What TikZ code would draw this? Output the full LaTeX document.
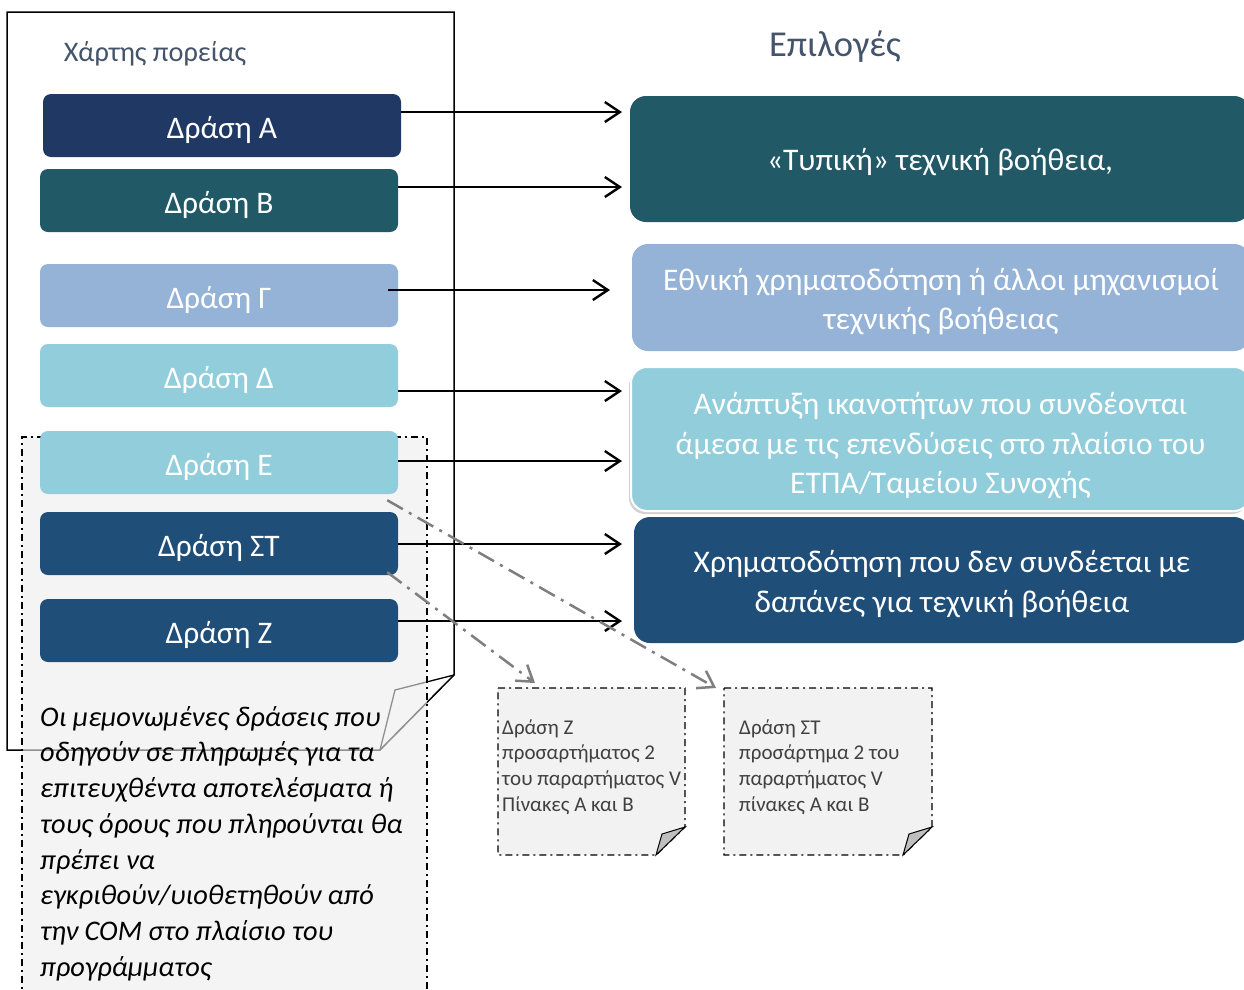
\documentclass[tikz,border=0pt]{standalone}
\usepackage{fontspec}
\setmainfont{Carlito}
\usetikzlibrary{arrows.meta,shadows,calc}

\definecolor{navyA}{HTML}{203864}
\definecolor{tealB}{HTML}{215967}
\definecolor{paleblue}{HTML}{95B3D7}
\definecolor{aqua}{HTML}{92CDDC}
\definecolor{steel}{HTML}{1F4E79}
\definecolor{slate}{HTML}{44546A}
\definecolor{notefill}{HTML}{F2F2F2}
\definecolor{notetext}{HTML}{404040}
\definecolor{linkgray}{HTML}{7F7F7F}

\tikzset{
  actbox/.style={rounded corners=8pt, minimum width=358pt, minimum height=63pt,
    inner sep=0pt, text=white, text height=25pt, text depth=0pt,
    font=\fontsize{31.4}{36}\selectfont},
  optbox/.style={rounded corners=16pt, inner sep=0pt},
  opttext/.style={inner sep=0pt, text=white, align=center,
    font=\fontsize{31.5}{39.5}\selectfont},
  flow/.style={line width=2.4pt, -{Straight Barb[length=15pt,width=20pt,line width=2.4pt]}},
  link/.style={line width=2.5pt, linkgray,
    dash pattern=on 18pt off 7pt on 3pt off 7pt,
    -{Straight Barb[length=15pt,width=20pt,line width=2.5pt]}},
  dashdot/.style={line width=1.4pt, dash pattern=on 7pt off 4pt on 2pt off 4pt},
  notebody/.style={dashdot, fill=notefill},
  notelabel/.style={anchor=north west, inner sep=0pt, align=left, text=notetext,
    font=\fontsize{21}{25.8}\selectfont},
}

\begin{document}
\begin{tikzpicture}[x=1pt,y=-1pt]
\useasboundingbox[fill=white] (0,0) rectangle (1244,989);

% roadmap frame with folded corner
\draw[line width=1.5pt, fill=white] (7,12) -- (454,12) -- (454,675) -- (380,750) -- (7,750) -- cycle;
\draw[line width=1.3pt] (454,675) -- (395,690) -- (380,750);

% shaded call-out area
\path[fill=black!7, fill opacity=0.6] (22,437) rectangle (427,1000);
\draw[dashdot] (22,1000) -- (22,437) -- (427,437) -- (427,1000);

\node[anchor=north west, inner sep=0pt, align=left,
  font=\fontsize{28.4}{35.7}\selectfont\itshape] (call) at (40,706)
  {Οι μεμονωμένες δράσεις που\\
   οδηγούν σε πληρωμές για τα\\
   επιτευχθέντα αποτελέσματα ή\\
   τους όρους που πληρούνται θα\\
   πρέπει να\\
   εγκριθούν/υιοθετηθούν από\\
   την COM στο πλαίσιο του\\
   προγράμματος};

% headings
\node[text=slate, font=\fontsize{28.3}{32}\selectfont] (map) at (155,54) {Χάρτης πορείας};
\node[text=slate, font=\fontsize{36.5}{42}\selectfont] (opts) at (835,47) {Επιλογές};

% actions
\node[actbox, fill=navyA]     (a)  at (222,125.5) {Δράση Α};
\node[actbox, fill=tealB]     (b)  at (219,200.5) {Δράση Β};
\node[actbox, fill=paleblue]  (g)  at (219,295.5) {Δράση Γ};
\node[actbox, fill=aqua]      (d)  at (219,375.5) {Δράση Δ};
\node[actbox, fill=aqua]      (e)  at (219,462.5) {Δράση Ε};
\node[actbox, fill=steel]     (st) at (219,543.5) {Δράση ΣΤ};
\node[actbox, fill=steel]     (z)  at (219,630.5) {Δράση Ζ};

% options
\node[optbox, fill=tealB, minimum width=620pt, minimum height=126pt] (o1) at (940,159) {};
\node[optbox, fill=paleblue, minimum width=618pt, minimum height=107pt] (o2) at (941,297.5) {};
\node[optbox, fill=aqua, draw=white, line width=2pt, minimum width=619pt, minimum height=144pt,
  drop shadow={shadow xshift=-2pt, shadow yshift=-3pt, opacity=0.35}] (o3) at (940.5,439) {};
\node[optbox, fill=steel, minimum width=616pt, minimum height=126pt] (o4) at (942,580) {};

\node[opttext] (o1t) at ($(o1)+(0,3)$) {«Τυπική» τεχνική βοήθεια,};
\node[opttext] (o2t) at ($(o2)+(0,4)$) {Εθνική χρηματοδότηση ή άλλοι μηχανισμοί\\τεχνικής βοήθειας};
\node[opttext] (o3t) at ($(o3)+(0,7)$) {Ανάπτυξη ικανοτήτων που συνδέονται\\άμεσα με τις επενδύσεις στο πλαίσιο του\\ΕΤΠΑ/Ταμείου Συνοχής};
\node[opttext] (o4t) at ($(o4)+(0,4)$) {Χρηματοδότηση που δεν συνδέεται με\\δαπάνες για τεχνική βοήθεια};

% arrow end points
\coordinate (ta) at (622,112);
\coordinate (tb) at (622,187);
\coordinate (tg) at (610,290);
\coordinate (td) at (622,391);
\coordinate (te) at (622,461);
\coordinate (tst) at (622,544);
\coordinate (tz) at (622,621);

\draw[flow] (a.east |- ta) -- (ta);
\draw[flow] (b.east |- tb) -- (tb);
\draw[flow] ($(g.east |- tg)+(-10,0)$) -- (tg);
\draw[flow] (d.east |- td) -- (td);
\draw[flow] (e.east |- te) -- (te);
\draw[flow] (st.east |- tst) -- (tst);
\draw[flow] (z.east |- tz) -- (tz);

% annex notes
\draw[notebody] (498,688) -- (685,688) -- (685,827) -- (656,855) -- (498,855) -- cycle;
\filldraw[fill=black!25, line width=1pt] (685,827) -- (662,834) -- (656,855) -- cycle;
\node[notelabel] (n1) at (502,719)
  {Δράση Ζ\\προσαρτήματος 2\\του παραρτήματος V\\Πίνακες Α και Β};

\draw[notebody] (724,688) -- (932,688) -- (932,827) -- (903,855) -- (724,855) -- cycle;
\filldraw[fill=black!25, line width=1pt] (932,827) -- (909,834) -- (903,855) -- cycle;
\node[notelabel] (n2) at (739,719)
  {Δράση ΣΤ\\προσάρτημα 2 του\\παραρτήματος V\\πίνακες Α και Β};

% links from actions to notes
\coordinate (se) at ($(e.south east)+(-11,6)$);
\coordinate (sst) at ($(st.south east)+(-11,-3)$);
\draw[link] (se) -- (716,688) coordinate (ln2);
\draw[link] (sst) -- (535,683) coordinate (ln1);
\end{tikzpicture}
\end{document}
